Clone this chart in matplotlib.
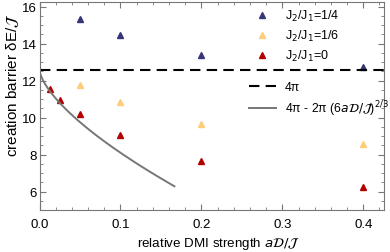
import numpy as np
import matplotlib
matplotlib.use("Agg")
import matplotlib.pyplot as plt
from matplotlib.ticker import MultipleLocator

plt.rcParams["font.family"] = ["Liberation Sans", "DejaVu Sans"]
plt.rcParams["mathtext.fontset"] = "dejavusans"

# data
x_quarter = [0.05, 0.1, 0.2, 0.4]
y_quarter = [15.34, 14.49, 13.38, 12.76]

x_sixth = [0.05, 0.1, 0.2, 0.4]
y_sixth = [11.74, 10.83, 9.64, 8.57]

x_zero = [0.0125, 0.025, 0.05, 0.1, 0.2, 0.4]
y_zero = [11.55, 10.97, 10.17, 9.05, 7.63, 6.25]

navy = "#353578"
orange = "#ffcc77"
red = "#b30000"
frame = "#777777"

W, H = 390, 253
fig = plt.figure(figsize=(W / 100, H / 100), dpi=100)
ax = fig.add_axes([39.5 / W, 42 / H, 344.5 / W, 208 / H])

ax.plot(x_quarter, y_quarter, "^", color=navy, ms=4.5, label=r"J$_2$/J$_1$=1/4")
ax.plot(x_sixth, y_sixth, "^", color=orange, ms=4.5, label=r"J$_2$/J$_1$=1/6")
ax.plot(x_zero, y_zero, "^", color=red, ms=4.5, label=r"J$_2$/J$_1$=0")
leg1 = ax.legend(loc="upper left", bbox_to_anchor=(255.5 / W, 1 - 9 / H),
                 bbox_transform=fig.transFigure, frameon=False,
                 fontsize=9, handlelength=1.0, handletextpad=1.36,
                 labelspacing=0.4, borderpad=0, borderaxespad=0)
ax.add_artist(leg1)

h1 = ax.axhline(4 * np.pi, color="black", ls=(0, (5, 3)), lw=1.5, label="4π")
xc = np.linspace(0, 1 / 6, 200)
h2, = ax.plot(xc, 4 * np.pi - 2 * np.pi * (6 * xc) ** (2 / 3), color="#777777",
              lw=1.4, label=r"4π - 2π (6$a\mathcal{D}/\mathcal{J}$)$^{2/3}$")
ax.legend(handles=[h1, h2], loc="upper left", bbox_to_anchor=(249 / W, 1 - 82 / H),
          bbox_transform=fig.transFigure, frameon=False, fontsize=8.8,
          handlelength=2.2, handletextpad=0.72, labelspacing=0.45,
          borderpad=0, borderaxespad=0)

ax.set_xlim(0, 0.4256)
ax.set_ylim(5.0, 16.25)
ax.xaxis.set_major_locator(MultipleLocator(0.1))
ax.xaxis.set_minor_locator(MultipleLocator(0.02))
ax.yaxis.set_major_locator(MultipleLocator(2))
ax.yaxis.set_minor_locator(MultipleLocator(0.5))
ax.set_xticks([0, 0.1, 0.2, 0.3, 0.4], ["0.0", "0.1", "0.2", "0.3", "0.4"])
ax.tick_params(which="both", direction="in", top=True, right=True, color=frame,
               labelsize=9.5)
ax.tick_params(axis="x", pad=5.8)
ax.tick_params(axis="y", pad=2.2)
ax.tick_params(which="major", length=4)
ax.tick_params(which="minor", length=2)
for s in ax.spines.values():
    s.set_color(frame)

ax.set_xlabel(r"relative DMI strength $a\mathcal{D}/\mathcal{J}$", fontsize=9.6)
ax.set_ylabel(r"creation barrier δE/$\mathcal{J}$", fontsize=11)
ax.xaxis.set_label_coords(0.521, -0.118)
ax.yaxis.set_label_coords(-0.055, 0.606)

fig.savefig("out.png", dpi=100)
